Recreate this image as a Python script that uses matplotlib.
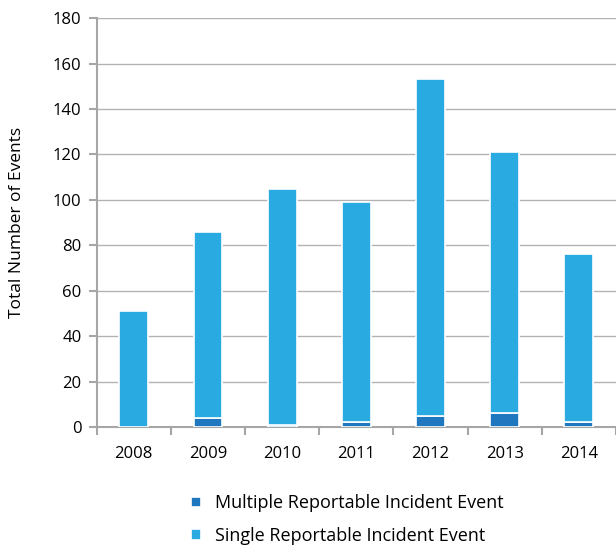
import matplotlib
matplotlib.use("Agg")
import matplotlib.pyplot as plt
import numpy as np

plt.rcParams['font.family'] = ['Open Sans', 'DejaVu Sans']

anios = ['2008', '2009', '2010', '2011', '2012', '2013', '2014']
multiple = [0, 4, 1, 2, 5, 6, 2]
single = [51, 82, 104, 97, 148, 115, 74]

color_multi = '#1f77c0'
color_single = '#29abe2'
gris = '#a6a6a6'

fig = plt.figure(figsize=(6.16, 5.5), dpi=100)
ax = fig.add_axes([0.157, 0.2236, 0.843, 0.7434])

x = np.arange(len(anios))
ancho = 0.39
b1 = ax.bar(x, multiple, ancho, color=color_multi, edgecolor='white', linewidth=1.2,
            label='Multiple Reportable Incident Event', zorder=3)
b2 = ax.bar(x, single, ancho, bottom=multiple, color=color_single, edgecolor='white',
            linewidth=1.2, label='Single Reportable Incident Event', zorder=3)

ax.set_xlim(-0.5, 6.5)
ax.set_ylim(0, 180)
ax.set_yticks(range(0, 181, 20))
ax.set_xticks(x)
ax.set_xticklabels(anios)
ax.set_xticks(np.arange(-0.5, 7, 1), minor=True)
ax.tick_params(axis='x', which='major', length=0, pad=14, labelsize=12)
ax.tick_params(axis='x', which='minor', length=6, width=1.5, color=gris)
ax.tick_params(axis='y', length=6, width=1.5, color=gris, labelsize=12, pad=5)

ax.grid(axis='y', color='#b3b3b3', linewidth=1, zorder=0)
for s in ['top', 'right']:
    ax.spines[s].set_visible(False)
for s in ['left', 'bottom']:
    ax.spines[s].set_color(gris)
    ax.spines[s].set_linewidth(1.5)

ax.set_ylabel('Total Number of Events', fontsize=12.5, labelpad=20)

ax.legend(handles=[b1, b2], loc='upper left', bbox_to_anchor=(0.15, -0.125),
          frameon=False, fontsize=13, handlelength=0.55, handleheight=0.55,
          handletextpad=0.8, labelspacing=0.8)

fig.savefig('out.png', dpi=100)
